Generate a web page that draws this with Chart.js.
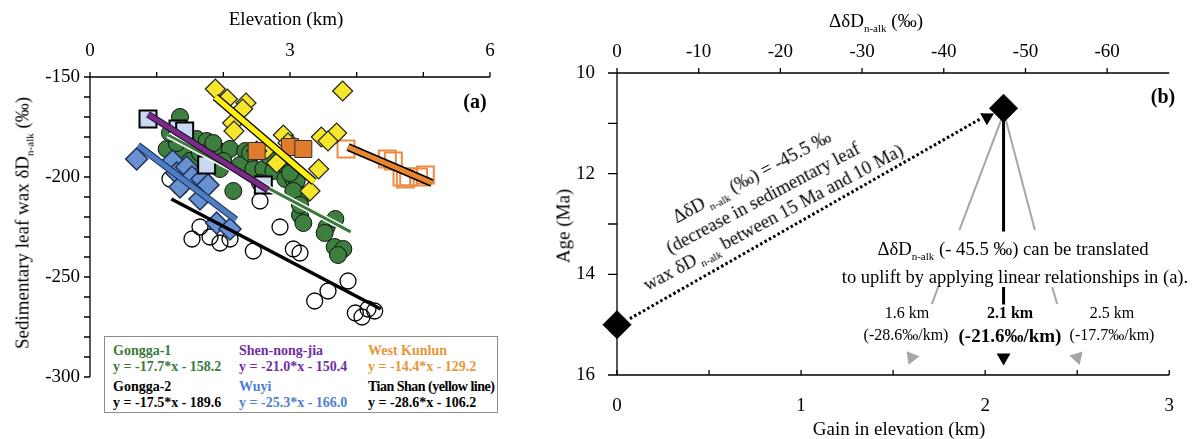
<!DOCTYPE html>
<html>
<head>
<meta charset="utf-8">
<script src="https://cdn.jsdelivr.net/npm/chart.js@4/dist/chart.umd.min.js"></script>
<style>
html,body{margin:0;padding:0;background:#fff;}
#wrap{position:relative;width:1194px;height:439px;overflow:hidden;font-family:"Liberation Serif","Times New Roman",serif;color:#000;}
canvas{position:absolute;top:0;}
#cA{left:0;}
#cB{left:560px;}
.t{position:absolute;white-space:nowrap;transform:translate(-50%,-50%);line-height:1;}
.sb{font-size:11px;position:relative;top:5px;}
.legend{position:absolute;left:104px;top:336px;width:394px;height:77px;border:1px solid #8c8c8c;background:#fff;box-sizing:border-box;}
.lg{position:absolute;font-weight:bold;font-size:14px;white-space:nowrap;line-height:1;}
</style>
</head>
<body>
<div id="wrap">
  <canvas id="cA" width="560" height="439"></canvas>
  <canvas id="cB" width="634" height="439"></canvas>

  <!-- panel (a) texts -->
  <div class="t" style="left:286px;top:18px;font-size:19px;">Elevation (km)</div>
  <div class="t" style="left:22px;top:223px;font-size:19px;transform:translate(-50%,-50%) rotate(-90deg);">Sedimentary leaf wax δD<span class="sb">n-alk</span> (‰)</div>
  <div class="t" style="left:475px;top:101px;font-size:20px;font-weight:bold;">(a)</div>
  <div class="legend">
    <div class="lg" style="left:8px;top:7px;color:#3c7a3c;">Gongga-1</div>
    <div class="lg" style="left:8px;top:23px;color:#3c7a3c;">y = -17.7*x - 158.2</div>
    <div class="lg" style="left:8px;top:43px;">Gongga-2</div>
    <div class="lg" style="left:8px;top:59px;">y = -17.5*x - 189.6</div>
    <div class="lg" style="left:134px;top:7px;color:#7030a0;">Shen-nong-jia</div>
    <div class="lg" style="left:134px;top:23px;color:#7030a0;">y = -21.0*x - 150.4</div>
    <div class="lg" style="left:134px;top:43px;color:#4f7fd0;">Wuyi</div>
    <div class="lg" style="left:134px;top:59px;color:#4f7fd0;">y = -25.3*x - 166.0</div>
    <div class="lg" style="left:263px;top:7px;color:#e9953a;">West Kunlun</div>
    <div class="lg" style="left:263px;top:23px;color:#e9953a;">y = -14.4*x - 129.2</div>
    <div class="lg" style="left:263px;top:43px;letter-spacing:-0.5px;">Tian Shan (yellow line)</div>
    <div class="lg" style="left:263px;top:59px;">y = -28.6*x - 106.2</div>
  </div>

  <!-- panel (b) texts -->
  <div class="t" style="left:876px;top:20px;font-size:19px;">ΔδD<span class="sb">n-alk</span> (‰)</div>
  <div class="t" style="left:563px;top:226px;font-size:19px;transform:translate(-50%,-50%) rotate(-90deg);">Age (Ma)</div>
  <div class="t" style="left:899px;top:428px;font-size:19px;">Gain in elevation (km)</div>
  <div class="t" style="left:1163px;top:96px;font-size:20px;font-weight:bold;">(b)</div>
  <div class="t" style="left:763px;top:198px;font-size:18.5px;line-height:22px;text-align:center;transform:translate(-50%,-50%) rotate(-28deg);">ΔδD<span class="sb"> n-alk</span> (‰) = -45.5 ‰<br>(decrease in sedimentary leaf<br>wax δD<span class="sb"> n-alk</span> between 15 Ma and 10 Ma)</div>
  <div class="t" style="left:1013px;top:249px;font-size:18.7px;">ΔδD<span class="sb">n-alk</span> (- 45.5 ‰) can be translated</div>
  <div class="t" style="left:1015px;top:277px;font-size:18.5px;">to uplift by applying linear relationships in (a).</div>
  <div class="t" style="left:907px;top:313px;font-size:16px;">1.6 km</div>
  <div class="t" style="left:906px;top:335px;font-size:16px;">(-28.6‰/km)</div>
  <div class="t" style="left:1010px;top:313px;font-size:16px;font-weight:bold;">2.1 km</div>
  <div class="t" style="left:1010px;top:335px;font-size:19px;font-weight:bold;">(-21.6‰/km)</div>
  <div class="t" style="left:1112px;top:313px;font-size:16px;">2.5 km</div>
  <div class="t" style="left:1112px;top:335px;font-size:16px;">(-17.7‰/km)</div>
</div>

<script>
// ---- panel (a): elevation (km) vs sedimentary leaf wax dD (permil) ----
const gongga1 = [[1.35,-170],[1.15,-186],[1.6,-181],[1.75,-182],[1.4,-187],[1.93,-187],[2.1,-186],[2.33,-187],
  [1.5,-192],[2.25,-194],[2.45,-196],[2.6,-196],[2.75,-197],[2.93,-201],[3.05,-201],[2.15,-207],[3.1,-202],
  [3.2,-209],[3.15,-219],[3.2,-223],[3.55,-225],[3.52,-228],[3.67,-235],[3.8,-236],[3.72,-239],[3.05,-207],
  [1.3,-183],[1.85,-183],[2.0,-192],[2.4,-188],[2.7,-190],[2.85,-193],[1.65,-188],[1.2,-178],[3.0,-198],
  [3.15,-214],[3.68,-221],[2.55,-203],[1.95,-196]];
const gongga2 = [[1.2,-201],[1.35,-205],[2.55,-212],[1.65,-225],[1.53,-231],[1.8,-230],[2.1,-231],[2.45,-237],
  [2.85,-225],[3.05,-236],[3.15,-238],[3.87,-252],[3.57,-257],[3.37,-262],[3.98,-268],[4.17,-266],[4.27,-267],
  [4.08,-270],[1.95,-233]];
const wuyi = [[0.7,-191],[1.24,-192],[1.3,-198],[1.45,-195],[1.53,-200],[1.68,-201],[1.77,-204],[1.35,-205],
  [1.65,-211],[1.9,-223],[2.1,-226]];
const shennongjia = [[0.87,-171],[1.32,-176],[1.42,-177],[1.75,-194],[2.6,-204]];
const tianshan = [[1.88,-156],[2.06,-161],[2.34,-163],[2.29,-166],[2.14,-173],[2.16,-177],[3.79,-157],[2.9,-179],
  [3.03,-184],[2.65,-186],[2.5,-187],[2.8,-193],[3.43,-196],[3.3,-207],[3.47,-180],[3.7,-178],[3.57,-182],[2.97,-183]];
const kunlunSolid = [[2.5,-187],[3.0,-185],[3.2,-186]];
const kunlunOpen = [[3.84,-186],[4.46,-191],[4.55,-192],[4.68,-200],[4.78,-200],[4.93,-200],[5.03,-199],[4.73,-201]];

// fitted lines, end points
const fitGongga1 = [[1.17,-179],[3.91,-227.4]];
const fitGongga2 = [[1.22,-211],[4.36,-266]];
const fitWuyi = [[0.72,-184.2],[2.19,-221.4]];
const fitShennongjia = [[0.87,-168.7],[2.67,-206.5]];
const fitKunlun = [[3.87,-185],[5.13,-203]];
const fitTianshan = [[1.88,-160],[3.36,-202.3]];

// ---- panel (b): gain in elevation (km) vs age (Ma) ----
const ageMarkers = [[0,15],[2.1,10.7]];
const dDArrow = [[0.07,14.88],[1.97,10.92]];
const dDArrowHead = [[2.01,10.88]];
const leftGuide = [[2.09,10.9],[1.86,13.12]];
const leftGuideLow = [[1.745,14.25],[1.71,14.59]];
const midGuide = [[2.1,10.9],[2.1,13.15]];
const midGuideLow = [[2.1,14.25],[2.1,14.6]];
const rightGuide = [[2.11,10.9],[2.27,13.12]];
const rightGuideLow = [[2.364,14.25],[2.391,14.59]];
const guideHeads = [[1.6,15.65],[2.1,15.65],[2.5,15.65]];
const guideHeadTurn = [201,180,163];
const guideHeadColors = ['#a6a6a6','#000','#a6a6a6'];

const xy = a => a.map(p => ({x: p[0], y: p[1]}));
const FONT = {family: '"Liberation Serif","Times New Roman",serif', size: 19};

// axis lines and tick marks
const axisTicks = {
  id: 'axisTicks',
  beforeDatasetsDraw(chart, args, opts) {
    const ctx = chart.ctx, a = chart.chartArea;
    ctx.save();
    ctx.strokeStyle = '#000';
    ctx.lineWidth = 1.3;
    for (const ax of opts.axes) {
      const s = chart.scales[ax.id];
      ctx.beginPath();
      if (ax.side === 'left') { ctx.moveTo(a.left, a.top); ctx.lineTo(a.left, a.bottom); }
      if (ax.side === 'top') { ctx.moveTo(a.left, a.top); ctx.lineTo(a.right, a.top); }
      if (ax.side === 'bottom') { ctx.moveTo(a.left, a.bottom); ctx.lineTo(a.right, a.bottom); }
      for (const t of s.ticks) {
        const r = t.value / ax.step;
        if (Math.abs(r - Math.round(r)) > 1e-6) continue;
        const p = s.getPixelForValue(t.value);
        if (ax.side === 'left') { ctx.moveTo(a.left - ax.out, p); ctx.lineTo(a.left + ax.inn, p); }
        if (ax.side === 'top') { ctx.moveTo(p, a.top - ax.out); ctx.lineTo(p, a.top + ax.inn); }
        if (ax.side === 'bottom') { ctx.moveTo(p, a.bottom + ax.out); ctx.lineTo(p, a.bottom - ax.inn); }
      }
      ctx.stroke();
    }
    ctx.restore();
  }
};

function pts(data, style, radius, bg, border, bw) {
  return {data: xy(data), pointStyle: style, pointRadius: radius, pointHoverRadius: radius,
    backgroundColor: bg, borderColor: border, borderWidth: bw, showLine: false, clip: false};
}
function line(data, color, width, extra) {
  return Object.assign({data: xy(data), showLine: true, pointRadius: 0, borderColor: color,
    backgroundColor: color, borderWidth: width, borderCapStyle: 'butt', clip: false}, extra || {});
}

// bottom -> top drawing order
const dsA = [
  pts(gongga2, 'circle', 8, 'rgba(255,255,255,0)', '#000', 1.3),
  pts(gongga1, 'circle', 8.5, '#3d7f3e', '#111', 1),
  pts(wuyi, 'rectRot', 11, '#6891d2', '#1f2f55', 1.5),
  pts(shennongjia, 'rect', 12, '#c8daf2', '#000', 2),
  pts(kunlunOpen, 'rect', 12, 'rgba(255,255,255,0)', '#ec8c44', 2),
  pts(tianshan, 'rectRot', 10, '#f6e62b', '#222', 1.2),
  pts(kunlunSolid, 'rect', 12, '#e07b2c', '#333', 1),
  line(fitGongga2, '#000', 3.5),
  line(fitGongga1, '#fff', 6),
  line(fitGongga1, '#3a7a3c', 3),
  line(fitWuyi, '#1b2f52', 7),
  line(fitWuyi, '#4f7dc4', 5),
  line(fitShennongjia, '#1a0a20', 7),
  line(fitShennongjia, '#7a2b8a', 5),
  line(fitKunlun, '#000', 8),
  line(fitKunlun, '#e8852f', 5),
  line(fitTianshan, '#000', 8),
  line(fitTianshan, '#ffee10', 5.5),
];
dsA.forEach((d, i) => d.order = -i);

new Chart(document.getElementById('cA'), {
  type: 'scatter',
  data: {datasets: dsA},
  options: {
    responsive: false, animation: false, events: [],
    layout: {padding: {left: 0, right: 70, top: 0, bottom: 62}},
    plugins: {legend: {display: false}, tooltip: {enabled: false},
      axisTicks: {axes: [
        {id: 'x', side: 'top', step: 1, out: 5, inn: 0},
        {id: 'y', side: 'left', step: 10, out: 6, inn: 0}
      ]}},
    scales: {
      x: {type: 'linear', position: 'top', min: 0, max: 6,
        ticks: {stepSize: 1, autoSkip: false, maxRotation: 0, padding: 15, color: '#000', font: FONT,
          callback: v => v % 3 === 0 ? String(v) : ''},
        grid: {display: false, drawTicks: false}, border: {display: false},
        afterFit: s => { s.height = 77; }},
      y: {type: 'linear', min: -300, max: -150,
        ticks: {stepSize: 10, autoSkip: false, padding: 10, color: '#000', font: FONT,
          callback: v => v % 50 === 0 ? String(v) : ''},
        grid: {display: false, drawTicks: false}, border: {display: false},
        afterFit: s => { s.width = 90; }}
    }
  },
  plugins: [axisTicks]
});

const dsB = [
  line(leftGuide, '#a6a6a6', 2),
  line(leftGuideLow, '#a6a6a6', 2),
  line(rightGuide, '#a6a6a6', 2),
  line(rightGuideLow, '#a6a6a6', 2),
  line(midGuide, '#000', 3),
  line(midGuideLow, '#000', 3),
  Object.assign(pts(guideHeads, 'triangle', 8, guideHeadColors, guideHeadColors, 0), {pointRotation: guideHeadTurn}),
  line(dDArrow, '#000', 3, {borderDash: [2.5, 2.5]}),
  Object.assign(pts(dDArrowHead, 'triangle', 8, '#000', '#000', 0), {pointRotation: 61}),
  pts(ageMarkers, 'rectRot', 14, '#000', '#000', 1),
];
dsB.forEach((d, i) => d.order = -i);

new Chart(document.getElementById('cB'), {
  type: 'scatter',
  data: {datasets: dsB},
  options: {
    responsive: false, animation: false, events: [],
    layout: {padding: {left: 0, right: 13, top: 0, bottom: 0}},
    plugins: {legend: {display: false}, tooltip: {enabled: false},
      axisTicks: {axes: [
        {id: 'x', side: 'bottom', step: 0.5, out: 0, inn: 5},
        {id: 'x2', side: 'top', step: 10, out: 5, inn: 0},
        {id: 'y', side: 'left', step: 1, out: 9, inn: 0}
      ]}},
    scales: {
      x: {type: 'linear', position: 'bottom', min: 0, max: 3,
        ticks: {stepSize: 0.5, autoSkip: false, maxRotation: 0, padding: 20, color: '#000', font: FONT,
          callback: v => Number.isInteger(v) ? String(v) : ''},
        grid: {display: false, drawTicks: false}, border: {display: false},
        afterFit: s => { s.height = 64; }},
      x2: {type: 'linear', position: 'top', min: -67.6, max: 0, reverse: true,
        ticks: {stepSize: 10, autoSkip: false, includeBounds: false, maxRotation: 0, padding: 10, color: '#000', font: FONT,
          callback: v => v % 10 === 0 ? String(v) : ''},
        grid: {display: false, drawTicks: false}, border: {display: false},
        afterFit: s => { s.height = 73; }},
      y: {type: 'linear', min: 10, max: 16, reverse: true,
        ticks: {stepSize: 1, autoSkip: false, padding: 22, color: '#000', font: FONT,
          callback: v => v % 2 === 0 ? String(v) : ''},
        grid: {display: false, drawTicks: false}, border: {display: false},
        afterFit: s => { s.width = 57; }}
    }
  },
  plugins: [axisTicks]
});
</script>
</body>
</html>
